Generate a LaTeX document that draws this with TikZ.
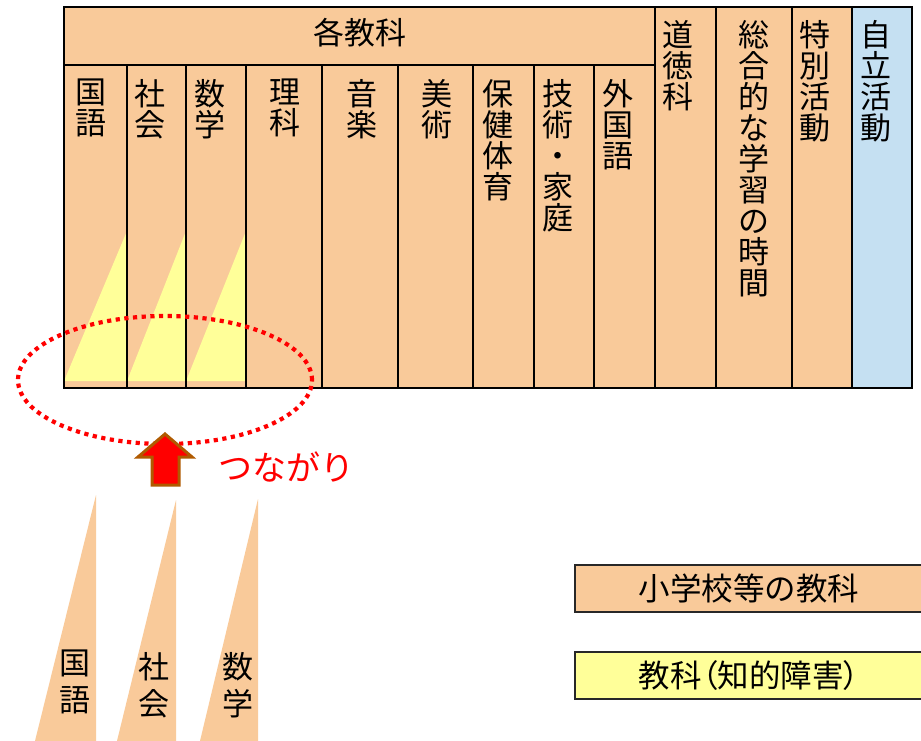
\documentclass[tikz,border=0pt]{standalone}
\usepackage{fontspec}
\newfontfamily\cjk{Noto Sans CJK JP}
\newfontfamily\cjkp[RawFeature=+palt]{Noto Sans CJK JP}
\definecolor{subj}{RGB}{249,202,154}
\definecolor{jiritsu}{RGB}{197,224,242}
\definecolor{chiteki}{RGB}{255,255,153}
\definecolor{arrowbrown}{RGB}{176,90,0}
\begin{document}
\begin{tikzpicture}[x=1pt,y=-1pt,
  tbl/.style={draw=black,line width=2.5pt},
  vtext/.style={anchor=north,align=center,inner sep=0pt,font=\cjk\fontsize{31}{31}\selectfont},
  btext/.style={anchor=center,align=center,inner sep=0pt,font=\cjk\fontsize{31}{37}\selectfont},
  legendbox/.style={draw={rgb,255:red,40;green,40;blue,40},line width=2pt,minimum width=348pt,minimum height=47pt,anchor=north west,inner sep=0pt,font=\cjk\fontsize{31.5}{32}\selectfont}]
\clip (0,0) rectangle (921,741);
\fill[white] (0,0) rectangle (921,741);
% table fills
\fill[subj] (64,7) rectangle (852,388);
\fill[jiritsu] (852,7) rectangle (912,388);
% yellow triangles
\fill[chiteki] (64,381) -- (127,231) -- (127,381) -- cycle;
\fill[chiteki] (127,381) -- (186,231) -- (186,381) -- cycle;
\fill[chiteki] (186,381) -- (246,231) -- (246,381) -- cycle;
% table lines
\draw[tbl] (64,7) rectangle (912,388);
\draw[tbl] (64,65) -- (655,65);
\foreach \x in {127,186,246,322,398,473,534,594}{\draw[tbl] (\x,65) -- (\x,388);}
\foreach \x in {655,716,792,852}{\draw[tbl] (\x,7) -- (\x,388);}
% texts
\node[font=\cjk\fontsize{31}{31}\selectfont,inner sep=0pt] (kakukyouka) at (360,33) {各教科};
\node[vtext] (kokugo) at (91,79) {国\\語};
\node[vtext] (shakai) at (150,79) {社\\会};
\node[vtext] (suugaku) at (210,79) {数\\学};
\node[vtext] (rika) at (285,79) {理\\科};
\node[vtext] (ongaku) at (362,79) {音\\楽};
\node[vtext] (bijutsu) at (437,79) {美\\術};
\node[vtext] (hoken) at (498,79) {保\\健\\体\\育};
\node[vtext] (gijutsu) at (558,79) {技\\術\\・\\家\\庭};
\node[vtext] (gaikokugo) at (618,79) {外\\国\\語};
\node[vtext] (doutoku) at (678,20) {道\\徳\\科};
\node[vtext] (sougou) at (754,20) {総\\合\\的\\な\\学\\習\\の\\時\\間};
\node[vtext] (tokkatsu) at (815,20) {特\\別\\活\\動};
\node[vtext] (jiritsukatsudou) at (876,20) {自\\立\\活\\動};
% dotted ellipse
\draw[red,line width=4.2pt,dash pattern=on 4.2pt off 4.5pt] (165,380) ellipse [x radius=147pt,y radius=64pt];
% arrow
\filldraw[fill=red,draw=arrowbrown,line width=3pt,line join=miter]
  (165,434) -- (192,457) -- (179,457) -- (179,485) -- (152,485) -- (152,457) -- (138,457) -- cycle;
\node[text=red,font=\cjk\fontsize{34}{34}\selectfont,anchor=west,inner sep=0pt] (tsunagari) at (218,467) {つながり};
% bottom triangles
\fill[subj] (96,495) -- (35,741) -- (96,741) -- cycle;
\fill[subj] (176,500) -- (117,741) -- (176,741) -- cycle;
\fill[subj] (258,499) -- (200,741) -- (258,741) -- cycle;
\node[btext] (bkokugo) at (75,682) {国\\語};
\node[btext] (bshakai) at (154,685) {社\\会};
\node[btext] (bsuugaku) at (238,685) {数\\学};
% legend
\node[legendbox,fill=subj] (legend1) at (574,564) {小学校等の教科};
\node[legendbox,fill=chiteki] (legend2) at (574,651) {教科{\cjkp （}知的障害{\cjkp ）}};
\end{tikzpicture}
\end{document}
